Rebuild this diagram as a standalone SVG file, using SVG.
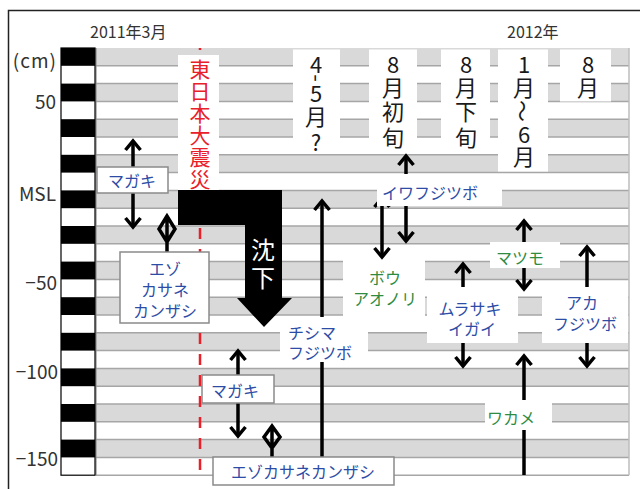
<svg xmlns="http://www.w3.org/2000/svg" width="640" height="489" viewBox="0 0 640 489">
<defs>
<style>
text{font-family:"Noto Sans CJK JP","Noto Sans",sans-serif}
.band{fill:#d9d9d9}
.grid{stroke:#a6a6a6;stroke-width:1.5;fill:none}
.wb{fill:#fff}
.bx{fill:#fff;stroke:#8a8a8a;stroke-width:1.5}
.date{font-size:22px;fill:#1a1a1a;text-anchor:middle;dominant-baseline:central}
.quake{font-size:21px;fill:#e8202a;text-anchor:middle;dominant-baseline:central}
.ax{font-size:19px;fill:#333;text-anchor:end;dominant-baseline:central}
.yr{font-size:16px;fill:#333}
.bl{font-size:16px;fill:#2d4ca6;text-anchor:middle;dominant-baseline:central}
.gr{font-size:16px;fill:#2e8b3f;text-anchor:middle;dominant-baseline:central}
.ln{stroke:#000;stroke-width:3.5;fill:none}
.up{marker-end:url(#ah)}
.dbl{marker-start:url(#ah);marker-end:url(#ah)}
.dia{stroke:#000;stroke-width:3.5;fill:none;stroke-linejoin:miter}
</style>
<marker id="ah" viewBox="-13 -10 16 20" refX="0" refY="0" markerWidth="16" markerHeight="20" markerUnits="userSpaceOnUse" orient="auto-start-reverse">
<path d="M-9,-7.5 L0,0 L-9,7.5" fill="none" stroke="#000" stroke-width="3.5"/>
</marker>
</defs>

<!-- outer frame -->
<path d="M8.5,489 V10.5 H640" stroke="#222" stroke-width="1.5" fill="none"/>

<!-- year labels -->
<text class="yr" x="90" y="38">2011年3月</text>
<text class="yr" x="507" y="38">2012年</text>

<!-- chart background bands -->
<g id="bands">
<rect x="96" y="48" width="533" height="427.2" fill="#fff"/>
<rect class="band" x="96" y="48" width="533" height="17.8"/>
<rect class="band" x="96" y="83.6" width="533" height="17.8"/>
<rect class="band" x="96" y="119.2" width="533" height="17.8"/>
<rect class="band" x="96" y="154.8" width="533" height="17.8"/>
<rect class="band" x="96" y="190.4" width="533" height="17.8"/>
<rect class="band" x="96" y="226" width="533" height="17.8"/>
<rect class="band" x="96" y="261.6" width="533" height="17.8"/>
<rect class="band" x="96" y="297.2" width="533" height="17.8"/>
<rect class="band" x="96" y="332.8" width="533" height="17.8"/>
<rect class="band" x="96" y="368.4" width="533" height="17.8"/>
<rect class="band" x="96" y="404" width="533" height="17.8"/>
<rect class="band" x="96" y="439.6" width="533" height="17.8"/>
<path class="grid" d="M96,65.8H629M96,83.6H629M96,101.4H629M96,119.2H629M96,137H629M96,154.8H629M96,172.6H629M96,190.4H629M96,208.2H629M96,226H629M96,243.8H629M96,261.6H629M96,279.4H629M96,297.2H629M96,315H629M96,332.8H629M96,350.6H629M96,368.4H629M96,386.2H629M96,404H629M96,421.8H629M96,439.6H629M96,457.4H629M96,475.2H629"/>
<path d="M629,48V475.2" stroke="#bdbdbd" stroke-width="1.5"/>
<path d="M96,48V475.2" stroke="#8c8c8c" stroke-width="1.2"/>
</g>

<!-- ruler -->
<g id="ruler">
<rect x="61" y="48" width="34" height="427.2" fill="#fff" stroke="#000" stroke-width="1.2"/>
<rect x="61" y="48" width="34" height="17.8"/>
<rect x="61" y="83.6" width="34" height="17.8"/>
<rect x="61" y="119.2" width="34" height="17.8"/>
<rect x="61" y="154.8" width="34" height="17.8"/>
<rect x="61" y="190.4" width="34" height="17.8"/>
<rect x="61" y="226" width="34" height="17.8"/>
<rect x="61" y="261.6" width="34" height="17.8"/>
<rect x="61" y="297.2" width="34" height="17.8"/>
<rect x="61" y="332.8" width="34" height="17.8"/>
<rect x="61" y="368.4" width="34" height="17.8"/>
<rect x="61" y="404" width="34" height="17.8"/>
<rect x="61" y="439.6" width="34" height="17.8"/>
</g>

<!-- axis labels -->
<g id="axis">
<text class="ax" x="57" y="59" letter-spacing="1">(cm)</text>
<text class="ax" x="56" y="100">50</text>
<text class="ax" x="56" y="192">MSL</text>
<text class="ax" x="57" y="281">−50</text>
<text class="ax" x="58" y="370">−100</text>
<text class="ax" x="58" y="457">−150</text>
</g>

<!-- earthquake dashed line -->
<path d="M200,48V475" stroke="#e8202a" stroke-width="2.5" stroke-dasharray="11 10" stroke-dashoffset="9"/>

<!-- date labels -->
<g id="date-quake">
<rect class="wb" x="178" y="55" width="41" height="135"/>
<text class="quake"><tspan x="200" y="68">東</tspan><tspan x="200" y="90">日</tspan><tspan x="200" y="112">本</tspan><tspan x="200" y="134">大</tspan><tspan x="200" y="156">震</tspan><tspan x="200" y="178">災</tspan></text>
</g>
<g id="date-apr-may">
<rect class="wb" x="293" y="49.5" width="47" height="101"/>
<text class="date"><tspan x="316" y="63">4</tspan></text>
<text class="date" x="316" y="75.5" transform="rotate(90 316 78)">-</text>
<text class="date"><tspan x="316" y="92">5</tspan><tspan x="316" y="115">月</tspan><tspan x="316" y="141">?</tspan></text>
</g>
<g id="date-aug-early">
<rect class="wb" x="369" y="49.5" width="48" height="101"/>
<text class="date"><tspan x="393" y="63">8</tspan><tspan x="393" y="86">月</tspan><tspan x="393" y="110">初</tspan><tspan x="393" y="136">旬</tspan></text>
</g>
<g id="date-aug-late">
<rect class="wb" x="441" y="49.5" width="49" height="101"/>
<text class="date"><tspan x="466" y="63">8</tspan><tspan x="466" y="86">月</tspan><tspan x="466" y="110">下</tspan><tspan x="466" y="136">旬</tspan></text>
</g>
<g id="date-jan-jun">
<rect class="wb" x="498" y="49.5" width="50" height="122"/>
<text class="date"><tspan x="524" y="63">1</tspan><tspan x="524" y="86">月</tspan></text>
<text class="date" x="524" y="111" transform="rotate(90 524 111)">～</text>
<text class="date"><tspan x="524" y="133">6</tspan><tspan x="524" y="155">月</tspan></text>
</g>
<g id="date-aug">
<rect class="wb" x="560" y="49.5" width="51" height="52"/>
<text class="date"><tspan x="588" y="63">8</tspan><tspan x="588" y="86">月</tspan></text>
</g>

<!-- subsidence arrow -->
<g id="subsidence">
<path d="M178,190 L282,190 L282,298 L292,298 L264,327 L237,298 L245,298 L245,225 L178,225 Z" fill="#000"/>
<text x="263" y="248" font-size="24" fill="#fff" text-anchor="middle" dominant-baseline="central">沈<tspan x="263" y="276">下</tspan></text>
</g>

<!-- connectors -->
<g id="connectors">
<path class="ln dbl" d="M133,141 V227"/>
<path class="dia" d="M167,216 L159,229 L167,242 L175,229 Z M167,216 V252"/>
<path class="ln up" d="M322,457 V201"/>
<path class="ln dbl" d="M382,198 V257"/>
<path class="ln dbl" d="M406,156 V241"/>
<path class="ln dbl" d="M524,221 V289"/>
<path class="ln dbl" d="M463,264 V366"/>
<path class="ln dbl" d="M587,247 V366"/>
<path class="ln up" d="M524,475 V356"/>
<path class="ln dbl" d="M238,351 V436"/>
<path class="dia" d="M272,426 L264,437 L272,448 L280,437 Z M272,426 V457"/>
</g>

<!-- species nodes -->
<g id="magaki-2011">
<rect class="bx" x="97" y="167" width="71" height="26"/>
<text class="bl" x="132" y="180">マガキ</text>
</g>
<g id="ezo-2011">
<rect class="bx" x="120" y="252" width="89" height="71"/>
<text class="bl"><tspan x="165" y="268">エゾ</tspan><tspan x="165" y="289">カサネ</tspan><tspan x="165" y="310">カンザシ</tspan></text>
</g>
<g id="chishima">
<rect class="wb" x="280" y="317" width="88" height="45"/>
<text class="bl" style="text-anchor:start"><tspan x="288" y="332">チシマ</tspan><tspan x="288" y="352">フジツボ</tspan></text>
</g>
<g id="iwafujitsubo">
<rect class="wb" x="377" y="174" width="125" height="32"/>
<text class="bl" x="430" y="192">イワフジツボ</text>
</g>
<g id="bouaonori">
<rect class="wb" x="343" y="260" width="82" height="56"/>
<text class="gr"><tspan x="385" y="277">ボウ</tspan><tspan x="385" y="298">アオノリ</tspan></text>
</g>
<g id="matsumo">
<rect class="wb" x="490" y="242" width="70" height="26"/>
<text class="gr" x="520" y="257">マツモ</text>
</g>
<g id="murasaki">
<rect class="wb" x="427" y="287" width="91" height="56"/>
<text class="bl"><tspan x="470" y="308">ムラサキ</tspan><tspan x="472" y="328">イガイ</tspan></text>
</g>
<g id="akafujitsubo">
<rect class="wb" x="542" y="287" width="86" height="56"/>
<text class="bl"><tspan x="582" y="302">アカ</tspan><tspan x="585" y="323">フジツボ</tspan></text>
</g>
<g id="wakame">
<rect class="wb" x="485" y="400" width="67" height="30"/>
<text class="gr" x="511" y="417">ワカメ</text>
</g>
<g id="magaki-2012">
<rect class="bx" x="202" y="375" width="72" height="28"/>
<text class="bl" x="235" y="390">マガキ</text>
</g>
<g id="ezo-2012">
<rect class="bx" x="213" y="457" width="181" height="28"/>
<text class="bl" x="303" y="471">エゾカサネカンザシ</text>
</g>
</svg>
